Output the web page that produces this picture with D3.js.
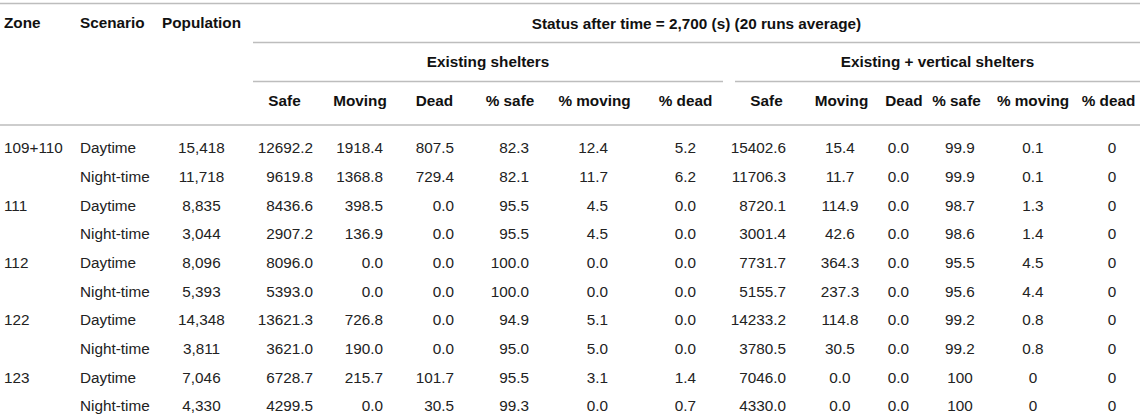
<!DOCTYPE html>
<html>
<head>
<meta charset="utf-8">
<script src="https://cdn.jsdelivr.net/npm/d3@7"></script>
<style>
  html, body { margin: 0; padding: 0; background: #fff; }
  svg text { font-family: "Liberation Sans", Arial, Helvetica, sans-serif; font-size: 15.3px; fill: #222; }
  svg text.hd { font-weight: bold; fill: #111; }
</style>
</head>
<body>
<div id="chart"></div>
<script>
// table values
const zones = ["109+110", "", "111", "", "112", "", "122", "", "123", ""];
const scenarios = ["Daytime", "Night-time", "Daytime", "Night-time", "Daytime", "Night-time", "Daytime", "Night-time", "Daytime", "Night-time"];
const population = [15418, 11718, 8835, 3044, 8096, 5393, 14348, 3811, 7046, 4330];

// existing shelters
const safeEx = [12692.2, 9619.8, 8436.6, 2907.2, 8096.0, 5393.0, 13621.3, 3621.0, 6728.7, 4299.5];
const movingEx = [1918.4, 1368.8, 398.5, 136.9, 0.0, 0.0, 726.8, 190.0, 215.7, 0.0];
const deadEx = [807.5, 729.4, 0.0, 0.0, 0.0, 0.0, 0.0, 0.0, 101.7, 30.5];
const pctSafeEx = [82.3, 82.1, 95.5, 95.5, 100.0, 100.0, 94.9, 95.0, 95.5, 99.3];
const pctMovingEx = [12.4, 11.7, 4.5, 4.5, 0.0, 0.0, 5.1, 5.0, 3.1, 0.0];
const pctDeadEx = [5.2, 6.2, 0.0, 0.0, 0.0, 0.0, 0.0, 0.0, 1.4, 0.7];

// existing + vertical shelters
const safeVt = [15402.6, 11706.3, 8720.1, 3001.4, 7731.7, 5155.7, 14233.2, 3780.5, 7046.0, 4330.0];
const movingVt = [15.4, 11.7, 114.9, 42.6, 364.3, 237.3, 114.8, 30.5, 0.0, 0.0];
const deadVt = [0.0, 0.0, 0.0, 0.0, 0.0, 0.0, 0.0, 0.0, 0.0, 0.0];
const pctSafeVt = [99.9, 99.9, 98.7, 98.6, 95.5, 95.6, 99.2, 99.2, 100, 100];
const pctMovingVt = [0.1, 0.1, 1.3, 1.4, 4.5, 4.4, 0.8, 0.8, 0, 0];
const pctDeadVt = [0, 0, 0, 0, 0, 0, 0, 0, 0, 0];

// header labels
const topHeaders = ["Zone", "Scenario", "Population"];
const statusTitle = "Status after time = 2,700 (s) (20 runs average)";
const groupTitles = ["Existing shelters", "Existing + vertical shelters"];
const subHeaders = ["Safe", "Moving", "Dead", "% safe", "% moving", "% dead"];

const width = 1145, height = 417;

const f1 = d3.format(".1f");
const fPop = d3.format(",");
const fLoose = v => Number.isInteger(v) ? String(v) : v.toFixed(1);

// column layout: header centre, data anchor x, anchor type
const columns = [
  { key: "zone",   values: zones,       fmt: String, hx: 4,     hAnchor: "start",  dx: 4,    anchor: "start" },
  { key: "scen",   values: scenarios,   fmt: String, hx: 80,    hAnchor: "start",  dx: 80,   anchor: "start" },
  { key: "pop",    values: population,  fmt: fPop,   hx: 201.5, hAnchor: "middle", dx: 201.5, anchor: "middle" },
  { key: "s1",     values: safeEx,      fmt: f1,     hx: 284.5, dx: 313,  anchor: "end" },
  { key: "m1",     values: movingEx,    fmt: f1,     hx: 360,   dx: 383,  anchor: "end" },
  { key: "d1",     values: deadEx,      fmt: f1,     hx: 434.5, dx: 454,  anchor: "end" },
  { key: "ps1",    values: pctSafeEx,   fmt: f1,     hx: 510,   dx: 529,  anchor: "end" },
  { key: "pm1",    values: pctMovingEx, fmt: f1,     hx: 594.5, dx: 608,  anchor: "end" },
  { key: "pd1",    values: pctDeadEx,   fmt: f1,     hx: 685.5, dx: 696,  anchor: "end" },
  { key: "s2",     values: safeVt,      fmt: f1,     hx: 766.5, dx: 786,  anchor: "end" },
  { key: "m2",     values: movingVt,    fmt: f1,     hx: 841.5, dx: 840,  anchor: "middle" },
  { key: "d2",     values: deadVt,      fmt: f1,     hx: 904,   dx: 898.5, anchor: "middle" },
  { key: "ps2",    values: pctSafeVt,   fmt: fLoose, hx: 956.5, dx: 960,  anchor: "middle" },
  { key: "pm2",    values: pctMovingVt, fmt: fLoose, hx: 1033,  dx: 1033, anchor: "middle" },
  { key: "pd2",    values: pctDeadVt,   fmt: fLoose, hx: 1108.5, dx: 1112, anchor: "middle" }
];

const svg = d3.select("#chart").append("svg")
  .attr("width", width)
  .attr("height", height);

// scales
const headerX = d3.scaleOrdinal().domain(columns.map(c => c.key)).range(columns.map(c => c.hx));
const dataX = d3.scaleOrdinal().domain(columns.map(c => c.key)).range(columns.map(c => c.dx));
const rowY = d3.scalePoint().domain(d3.range(population.length)).range([148, 406]);
const groupX = d3.scaleOrdinal().domain(groupTitles).range([[253, 723], [735, 1140]]);

// rules
const rule = (x1, x2, y) => svg.append("line")
  .attr("x1", x1).attr("x2", x2).attr("y1", y).attr("y2", y)
  .attr("stroke", "#bdbdbd").attr("stroke-width", 1.3);

rule(0, 1140, 3.5);
rule(253, 1140, 42.5);
groupTitles.forEach(g => rule(groupX(g)[0], groupX(g)[1], 81.5));
rule(0, 1140, 125);

// header text
svg.selectAll("text.top")
  .data(columns.slice(0, 3))
  .join("text")
  .attr("class", "hd top")
  .attr("x", d => headerX(d.key))
  .attr("y", 23)
  .attr("dy", "0.35em")
  .attr("text-anchor", d => d.hAnchor)
  .text((d, i) => topHeaders[i]);

svg.append("text")
  .attr("class", "hd")
  .attr("x", (253 + 1140) / 2)
  .attr("y", 23.5)
  .attr("dy", "0.35em")
  .attr("text-anchor", "middle")
  .text(statusTitle);

svg.selectAll("text.group")
  .data(groupTitles)
  .join("text")
  .attr("class", "hd group")
  .attr("x", d => (groupX(d)[0] + groupX(d)[1]) / 2)
  .attr("y", 62)
  .attr("dy", "0.35em")
  .attr("text-anchor", "middle")
  .text(d => d);

svg.selectAll("text.sub")
  .data(columns.slice(3))
  .join("text")
  .attr("class", "hd sub")
  .attr("x", d => headerX(d.key))
  .attr("y", 100.5)
  .attr("dy", "0.35em")
  .attr("text-anchor", "middle")
  .text((d, i) => subHeaders[i % subHeaders.length]);

// body cells
const cells = columns.flatMap(c => c.values.map((v, i) => ({ col: c, row: i, text: c.fmt(v) })));

svg.selectAll("text.cell")
  .data(cells)
  .join("text")
  .attr("class", "cell")
  .attr("x", d => dataX(d.col.key))
  .attr("y", d => rowY(d.row))
  .attr("dy", "0.35em")
  .attr("text-anchor", d => d.col.anchor)
  .text(d => d.text);
</script>
</body>
</html>
